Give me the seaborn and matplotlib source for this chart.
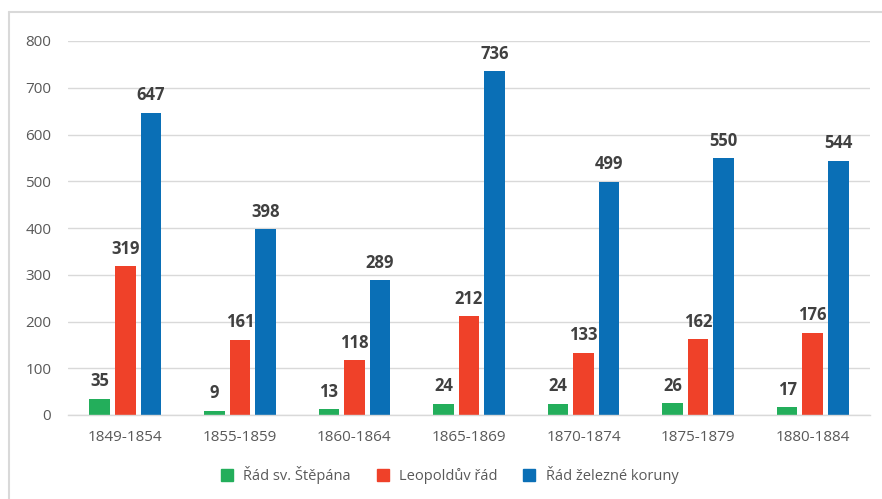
import matplotlib
matplotlib.use("Agg")
import matplotlib.pyplot as plt
from matplotlib.lines import Line2D
import seaborn as sns
import pandas as pd

periods = ["1849-1854", "1855-1859", "1860-1864", "1865-1869",
           "1870-1874", "1875-1879", "1880-1884"]
stepan = [35, 9, 13, 24, 24, 26, 17]
leopold = [319, 161, 118, 212, 133, 162, 176]
koruna = [647, 398, 289, 736, 499, 550, 544]
series_names = ["Řád sv. Štěpána", "Leopoldův řád", "Řád železné koruny"]
colors = ["#23AE5B", "#EF4129", "#0A6FB6"]
yticks = [0, 100, 200, 300, 400, 500, 600, 700, 800]

rows = []
for name, vals in zip(series_names, [stepan, leopold, koruna]):
    for p, v in zip(periods, vals):
        rows.append({"period": p, "order": name, "count": v})
df = pd.DataFrame(rows)

sns.set_theme(style="white")
plt.rcParams["font.family"] = ["Open Sans", "DejaVu Sans"]

fig = plt.figure(figsize=(8.82, 4.99), dpi=100)
ax = fig.add_axes([68 / 882, 1 - 415 / 499, 802 / 882, 374 / 499])

sns.barplot(data=df, x="period", y="count", hue="order",
            hue_order=series_names, order=periods, palette=colors,
            width=0.67, gap=0.2, saturation=1, ax=ax, legend=False,
            edgecolor="none", errorbar=None)

for cont in ax.containers:
    ax.bar_label(cont, padding=6, fontsize=12, fontweight="bold",
                 color="#404040")

ax.set_ylim(0, 800)
ax.set_yticks(yticks)
ax.set_yticklabels([str(t) for t in yticks], fontsize=11, color="#595959")
ax.tick_params(axis="x", labelsize=11, labelcolor="#595959", length=0, pad=11)
ax.tick_params(axis="y", length=0, pad=12)
ax.set_xlabel("")
ax.set_ylabel("")
ax.yaxis.grid(True, color="#D9D9D9", linewidth=1)
ax.set_axisbelow(True)
for side in ["top", "right", "left"]:
    ax.spines[side].set_visible(False)
ax.spines["bottom"].set_color("#D9D9D9")
ax.spines["bottom"].set_linewidth(1)

handles = [Line2D([0], [0], marker="s", linestyle="none", markersize=8,
                  markerfacecolor=c, markeredgecolor=c) for c in colors]
fig.legend(handles, series_names, loc="center", ncol=3,
           bbox_to_anchor=(0.505, 1 - 475 / 499), frameon=False,
           fontsize=10.5, labelcolor="#595959", handletextpad=0.1,
           columnspacing=1.2)

# chart frame (top and left edges)
fig.add_artist(Line2D([9 / 882, 1.0], [1 - 12 / 499, 1 - 12 / 499],
                      transform=fig.transFigure, color="#D9D9D9", linewidth=1.5))
fig.add_artist(Line2D([9 / 882, 9 / 882], [0, 1 - 12 / 499],
                      transform=fig.transFigure, color="#D9D9D9", linewidth=1.5))

fig.savefig("out.png", dpi=100, facecolor="white")
